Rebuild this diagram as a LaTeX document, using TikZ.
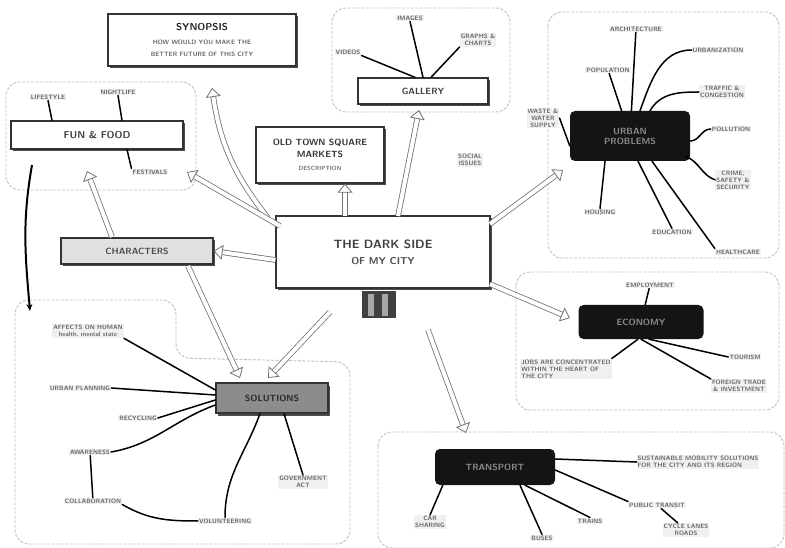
\documentclass[tikz,border=0pt]{standalone}
\usetikzlibrary{arrows.meta,shadows,calc}
\begin{document}
\begin{tikzpicture}[x=1pt,y=-1pt,
  lbl/.style={font=\sffamily\bfseries\fontsize{6.3}{7}\selectfont, text=black!60, fill=black!6, align=center, inner sep=1pt},
  grp/.style={draw=black!25, line width=0.9pt, rounded corners=14pt, dash pattern=on 3pt off 1.5pt},
  sbox/.style={draw=black!80, line width=1.3pt, fill=white, align=center, inner sep=3pt,
     drop shadow={shadow xshift=2pt,shadow yshift=-2.5pt,fill=black!70,opacity=1}},
  dnode/.style={fill=black!92, rounded corners=5pt, text=black!45, align=center, inner sep=3pt,
     font=\sffamily\bfseries\fontsize{9}{10}\selectfont},
  link/.style={draw=black, line width=1.5pt, line cap=round},
  hol/.style={draw=black!55, line width=0.8pt, double=white, double distance=4pt,
     -{Triangle[open, length=9pt, width=15pt]}},
]
\useasboundingbox (0,0) rectangle (785,548);

% ---------- groups ----------
\draw[grp] (332,8) rectangle (510,112);
\draw[grp] (548,12) rectangle (779,258);
\draw[grp] (6,82) rectangle (196,190);
\draw[grp] (516,272) rectangle (779,410);
\draw[grp] (15,300) -- (176,300) -- (176,358) -- (350,362) -- (350,544) -- (15,544) -- cycle;
\draw[grp] (378,432) rectangle (784,548);

% ---------- boxes ----------
\node[sbox, minimum width=188pt, minimum height=52pt] (syn) at (202,40)
  {{\fontsize{10}{11}\selectfont\sffamily\bfseries\color{black!85}SYNOPSIS}\\[2pt]
   {\fontsize{6.3}{7}\selectfont\sffamily\bfseries\color{black!60}HOW WOULD YOU MAKE THE}\\
   {\fontsize{6.3}{7}\selectfont\sffamily\bfseries\color{black!60}BETTER FUTURE OF THIS CITY}};

\node[sbox, minimum width=130pt, minimum height=26pt, font=\sffamily\bfseries\fontsize{9}{10}\selectfont, text=black!75] (gal) at (423,91) {GALLERY};
\node[lbl] (gimg) at (410,18) {IMAGES};
\node[lbl] (gvid) at (348,52) {VIDEOS};
\node[lbl] (gchart) at (478,40) {GRAPHS \&\\CHARTS};

\node[sbox, minimum width=172pt, minimum height=28pt, font=\sffamily\bfseries\fontsize{10}{11}\selectfont, text=black!75] (fire) at (97,135) {FUN \& FOOD};
\node[lbl] (f1) at (48,97) {LIFESTYLE};
\node[lbl] (f2) at (118,92) {NIGHTLIFE};
\node[lbl] (f3) at (150,172) {FESTIVALS};

\node[sbox, fill=black!12, minimum width=152pt, minimum height=26pt, font=\sffamily\bfseries\fontsize{9}{10}\selectfont, text=black!70] (char) at (137,251) {CHARACTERS};

\node[sbox, minimum width=128pt, minimum height=56pt] (town) at (320,155)
  {{\fontsize{9}{10}\selectfont\sffamily\bfseries\color{black!80}OLD TOWN SQUARE}\\
   {\fontsize{9}{10}\selectfont\sffamily\bfseries\color{black!80}MARKETS}\\[1pt]
   {\fontsize{6}{6.5}\selectfont\sffamily\bfseries\color{black!55}DESCRIPTION}};
\node[lbl] (soc) at (470,160) {SOCIAL\\ISSUES};

\node[sbox, minimum width=214pt, minimum height=72pt] (cen) at (383,252)
  {{\fontsize{12}{14}\selectfont\sffamily\bfseries\color{black!75}THE DARK SIDE}\\[4pt]
   {\fontsize{10}{12}\selectfont\sffamily\bfseries\color{black!70}OF MY CITY}};
\fill[black!75] (362,291) rectangle (396,318);
\fill[black!35] (368,294) rectangle (374,316);
\fill[black!35] (382,294) rectangle (388,316);

% ---------- problems (top right) ----------
\node[dnode, minimum width=120pt, minimum height=50pt] (prob) at (630,136) {URBAN\\PROBLEMS};
\node[lbl] (p1) at (636,29) {ARCHITECTURE};
\node[lbl] (p2) at (718,50) {URBANIZATION};
\node[lbl] (p3) at (608,70) {POPULATION};
\node[lbl] (p4) at (722,92) {TRAFFIC \&\\CONGESTION};
\node[lbl] (p5) at (543,118) {WASTE \&\\WATER\\SUPPLY};
\node[lbl] (p6) at (731,129) {POLLUTION};
\node[lbl] (p7) at (733,180) {CRIME,\\SAFETY \&\\SECURITY};
\node[lbl] (p8) at (600,212) {HOUSING};
\node[lbl] (p9) at (672,232) {EDUCATION};
\node[lbl] (p10) at (738,252) {HEALTHCARE};
\foreach \p in {p1,p3} \draw[link] (prob) -- (\p);
\draw[link] (prob.north) ++(10,0) to[out=70,in=180] (p2.west);
\draw[link] (prob.north) ++(20,0) to[out=60,in=180] (p4.west);
\draw[link] (prob.west) ++(0,10) -- (p5.east);
\draw[link] (prob.east) ++(0,5) to[out=0,in=180] (p6.west);
\draw[link] (prob.south east) ++(-5,-5) to[out=-20,in=160] (p7.west);
\draw[link] (prob.south) ++(-25,0) -- (p8.north);
\draw[link] (prob.south) ++(8,0) -- (p9.north);
\draw[link] (prob.south) ++(22,0) -- (p10.north west);

% ---------- economy (mid right) ----------
\node[dnode, minimum width=125pt, minimum height=34pt] (eco) at (641,322) {ECONOMY};
\node[lbl] (e1) at (650,285) {EMPLOYMENT};
\node[lbl, align=left] (e2) at (566,369) {JOBS ARE CONCENTRATED\\WITHIN THE HEART OF\\THE CITY};
\node[lbl] (e3) at (745,357) {TOURISM};
\node[lbl] (e4) at (739,386) {FOREIGN TRADE\\\& INVESTMENT};
\draw[link] (eco) -- (e1);
\draw[link] (eco.south) ++(-3,0) -- (e2.north east);
\draw[link] (eco.south) ++(8,0) -- (e3.west);
\draw[link] (eco.south) ++(0,0) -- (e4.north west);

% ---------- solutions (bottom left) ----------
\node[sbox, fill=black!45, minimum width=112pt, minimum height=30pt, font=\sffamily\bfseries\fontsize{9}{10}\selectfont, text=black!85] (sol) at (272,398) {SOLUTIONS};
\node[lbl] (s1) at (88,331) {AFFECTS ON HUMAN\\health, mental state};
\node[lbl] (s2) at (80,388) {URBAN PLANNING};
\node[lbl] (s3) at (138,418) {RECYCLING};
\node[lbl] (s4) at (90,452) {AWARENESS};
\node[lbl] (s5) at (93,501) {COLLABORATION};
\node[lbl] (s6) at (225,521) {VOLUNTEERING};
\node[lbl] (s7) at (303,482) {GOVERNMENT\\ACT};
\draw[link] (sol.west) ++(0,-8) -- (s1.south east);
\draw[link] (sol.west) ++(0,-3) -- (s2.east);
\draw[link] (sol.west) ++(0,2) -- (s3.east);
\draw[link] (sol.west) ++(0,7) to[out=200,in=10] (s4.east);
\draw[link] (sol.south) ++(-12,0) to[out=250,in=90] (s6.north);
\draw[link] (sol.south) ++(12,0) -- (s7.north);
\draw[link] (s4) -- (s5);
\draw[link] (s6.west) to[out=180,in=-30] (s5.south east);

% ---------- transport (bottom right) ----------
\node[dnode, minimum width=120pt, minimum height=36pt] (trn) at (495,467) {TRANSPORT};
\node[lbl, align=left] (b1) at (698,462) {SUSTAINABLE MOBILITY SOLUTIONS\\FOR THE CITY AND ITS REGION};
\node[lbl] (b2) at (657,505) {PUBLIC TRANSIT};
\node[lbl] (b3) at (686,530) {CYCLE LANES\\ROADS};
\node[lbl] (b4) at (590,521) {TRAINS};
\node[lbl] (b5) at (542,538) {BUSES};
\node[lbl] (b6) at (430,522) {CAR\\SHARING};
\draw[link] (trn.east) ++(0,-8) -- (b1.west);
\draw[link] (trn.east) ++(0,3) -- (b2.north west);
\draw[link] (b2) -- (b3);
\draw[link] (trn.south) ++(30,0) -- (b4.north);
\draw[link] (trn.south) ++(25,0) -- (b5.north);
\draw[link] (trn.south west) ++(8,0) -- (b6.north);

% ---------- gallery & fun links ----------
\draw[link] (gal.north) -- (gimg.south);
\draw[link] (gal.north) ++(-8,0) -- (gvid.south east);
\draw[link] (gal.north) ++(8,0) -- (gchart.south west);
\draw[link] (fire.north) ++(-45,0) -- (f1.south);
\draw[link] (fire.north) ++(25,0) -- (f2.south);
\draw[link] (fire.south) ++(30,0) -- (f3.north west);

% ---------- hollow arrows ----------
\draw[hol] (268,218) to[bend left=15] (212,88);
\draw[hol] (280,226) -- (187,172);
\draw[hol] (cen.west) ++(0,8) -- (char.east);
\draw[hol] (345,216) -- (town.south -| 345,0);
\draw[hol] (398,216) -- (419,110);
\draw[hol] (490,224) -- (563,170);
\draw[hol] (490,284) -- (570,318);
\draw[hol] (428,330) -- (466,433);
\draw[hol] (330,312) -- (268,378);
\draw[hol] (188,266) -- (240,378);
\draw[hol] (112,237) -- (87,171);
\draw[line width=2pt, black, -{Stealth[length=7pt,width=6pt]}] (32,165) to[out=260,in=95] (30,311);
\end{tikzpicture}
\end{document}
